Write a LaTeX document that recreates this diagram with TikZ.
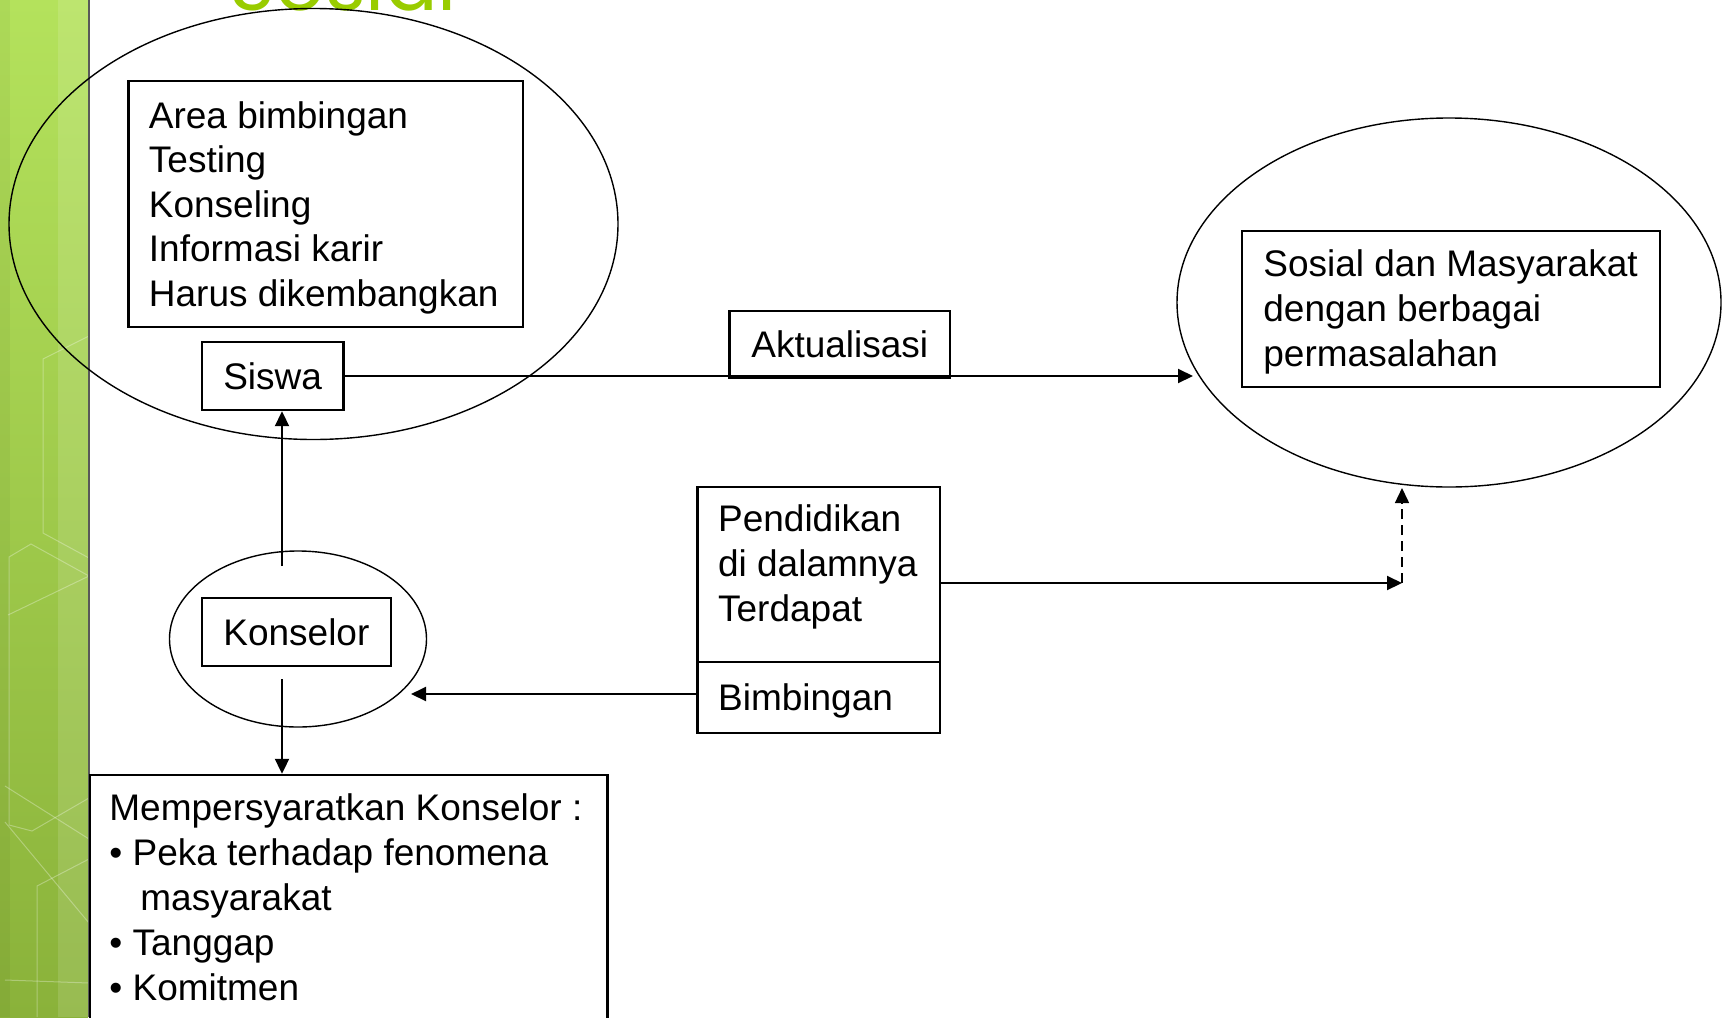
\documentclass[tikz,border=0pt]{standalone}
\usepackage{fontspec}
\setmainfont{Liberation Sans}
\newfontfamily\titlefont{Poppins}
\usetikzlibrary{shapes.geometric,arrows.meta}
\definecolor{barTop}{RGB}{180,226,92}
\definecolor{barBot}{RGB}{138,178,58}
\definecolor{titleGreen}{RGB}{153,204,0}
\begin{document}
\begin{tikzpicture}[x=0.5pt,y=-0.5pt,
  box/.style={draw, rectangle, line width=1.2pt, inner sep=0pt, font=\fontsize{18.5}{22}\selectfont},
  oval/.style={draw, ellipse, line width=0.7pt, inner sep=0pt},
  txt/.style={anchor=base west, inner sep=0pt, font=\fontsize{18.5}{22}\selectfont},
  arr/.style={line width=1pt, -{Triangle[length=7.5pt,width=7pt]}},
  darr/.style={line width=0.75pt, dash pattern=on 5pt off 3pt, -{Triangle[length=7.5pt,width=7pt]}},
  hexline/.style={white, opacity=0.3, line width=0.5pt}
]
\useasboundingbox (0,0) rectangle (1722,1017);
\clip (0,0) rectangle (1722,1017);

% green side bar
\shade[top color=barTop, bottom color=barBot] (0,0) rectangle (88,1017);
\fill[white, opacity=0.12] (58,0) rectangle (88,1017);
\fill[black, opacity=0.04] (0,0) rectangle (10,1017);
\draw[hexline] (89,336) -- (43,359) -- (43,533) -- (89,558);
\draw[hexline] (89,576) -- (31,544) -- (9,557) -- (9,825) -- (32,831) -- (89,798);
\draw[hexline] (8,615) -- (89,576);
\draw[hexline] (5,786) -- (89,839);
\draw[hexline] (5,822) -- (89,923);
\draw[hexline] (89,859) -- (37,886) -- (37,1017);
\draw[hexline] (5,980) -- (89,983);
\draw[line width=0.9pt, black!65] (89,0) -- (89,1017);

% title (cut off at the top, as in the reference)
\node[anchor=base west, inner sep=0pt, text=titleGreen, font=\titlefont\fontsize{39}{42}\selectfont] (title) at (229,10.5) {Sosial};

% ellipses
\node[oval, minimum width=304.5pt, minimum height=215.5pt] (elL) at (313.5,224) {};
\node[oval, minimum width=128.5pt, minimum height=88pt] (elK) at (298,639) {};
\node[oval, minimum width=272pt, minimum height=184.5pt] (elR) at (1449,302.5) {};

% boxes
\node[box, minimum width=197.2pt, minimum height=123pt] (area) at (325.8,204) {};
\node[txt] (a1) at (148.5,128) {Area bimbingan};
\node[txt] (a2) at (148.5,172.5) {Testing};
\node[txt] (a3) at (148.5,217) {Konseling};
\node[txt] (a4) at (148.5,261.5) {Informasi karir};
\node[txt] (a5) at (148.5,306) {Harus dikembangkan};

\node[box, minimum width=70.85pt, minimum height=34pt] (siswa) at (272.65,376) {Siswa};
\node[box, minimum width=110.25pt, minimum height=33.25pt] (aktual) at (839.75,344.25) {Aktualisasi};

\node[box, minimum width=209.15pt, minimum height=78pt] (sos) at (1450.85,308.7) {};
\node[txt] (s1) at (1263,276) {Sosial dan Masyarakat};
\node[txt] (s2) at (1263,321) {dengan berbagai};
\node[txt] (s3) at (1263,366) {permasalahan};

\node[box, minimum width=121.25pt, minimum height=87.65pt] (pend) at (818.75,574.35) {};
\node[box, minimum width=121.25pt, minimum height=35.35pt] (bimb) at (818.75,697.35) {};
\node[txt] (p1) at (717.7,531.7) {Pendidikan};
\node[txt] (p2) at (717.7,576.7) {di dalamnya};
\node[txt] (p3) at (717.7,621.7) {Terdapat};
\node[txt] (p4) at (717.7,710) {Bimbingan};

\node[box, minimum width=94.6pt, minimum height=34pt] (kons) at (296.4,632) {Konselor};

\node[box, minimum width=258.75pt, minimum height=132.5pt] (req) at (348.75,907.5) {};
\node[txt] (r1) at (109,820) {Mempersyaratkan Konselor :};
\node[txt] (r2) at (109,865) {• Peka terhadap fenomena};
\node[txt] (r3) at (140,910) {masyarakat};
\node[txt] (r4) at (109,955) {• Tanggap};
\node[txt] (r5) at (109,1000) {• Komitmen};

% connectors
\coordinate (ain) at (1193,375);
\draw[arr] (siswa.east) -- (siswa.east -| ain);
\coordinate (kup) at (282,566);
\draw[arr] (kup) -- (kup |- siswa.south);
\coordinate (kdn) at (282,679);
\draw[arr] (kdn) -- (kdn |- req.north);
\coordinate (kin) at (411,694);
\draw[arr] (bimb.west |- kin) -- (kin);
\coordinate (dj) at (1402,583);
\draw[arr] (pend.east |- dj) -- (dj);
\coordinate (rin) at (1402,488);
\draw[darr] (dj) -- (rin);
\end{tikzpicture}
\end{document}
